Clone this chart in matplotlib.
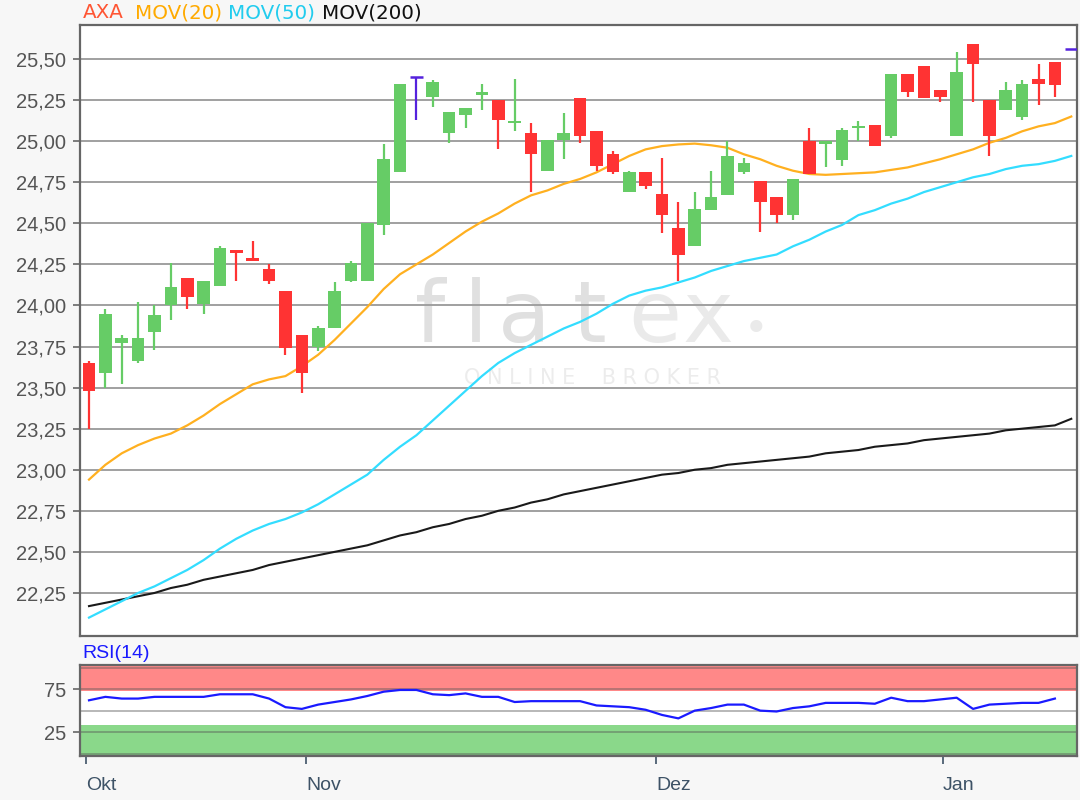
import numpy as np
import matplotlib
matplotlib.use("Agg")
import matplotlib.pyplot as plt

# AXA daily candles, Okt - Jan
opens = [23.65, 23.59, 23.77, 23.66, 23.84, 24.00, 24.17, 24.01, 24.12, 24.34,
         24.29, 24.22, 24.09, 23.82, 23.75, 23.86, 24.15, 24.15, 24.49, 24.81,
         25.39, 25.27, 25.05, 25.16, 25.28, 25.25, 25.11, 25.05, 24.82, 25.01,
         25.26, 25.06, 24.92, 24.69, 24.81, 24.68, 24.47, 24.36, 24.58, 24.67,
         24.81, 24.76, 24.66, 24.55, 25.00, 24.98, 24.885, 25.08, 25.10, 25.03,
         25.41, 25.46, 25.31, 25.03, 25.59, 25.25, 25.19, 25.15, 25.38, 25.48,
         25.56]
highs = [23.66, 23.98, 23.82, 24.02, 24.00, 24.26, 24.17, 24.15, 24.36, 24.34,
         24.39, 24.25, 24.09, 23.82, 23.875, 24.14, 24.27, 24.50, 24.98, 25.35,
         25.39, 25.37, 25.18, 25.20, 25.35, 25.25, 25.38, 25.11, 25.01, 25.17,
         25.26, 25.06, 24.94, 24.82, 24.81, 24.90, 24.63, 24.69, 24.82, 25.00,
         24.90, 24.76, 24.66, 24.77, 25.08, 25.00, 25.08, 25.12, 25.10, 25.41,
         25.41, 25.46, 25.31, 25.54, 25.59, 25.25, 25.36, 25.37, 25.47, 25.48,
         25.56]
lows = [23.25, 23.50, 23.52, 23.65, 23.73, 23.91, 23.98, 23.95, 24.12, 24.15,
        24.27, 24.13, 23.70, 23.47, 23.72, 23.86, 24.14, 24.15, 24.43, 24.81,
        25.13, 25.21, 24.99, 25.08, 25.19, 24.95, 25.06, 24.69, 24.82, 24.89,
        24.99, 24.82, 24.80, 24.69, 24.71, 24.44, 24.15, 24.36, 24.58, 24.67,
        24.80, 24.45, 24.50, 24.52, 24.80, 24.84, 24.85, 25.00, 24.97, 25.02,
        25.27, 25.26, 25.24, 25.03, 25.24, 24.91, 25.19, 25.13, 25.22, 25.27,
        25.56]
closes = [23.48, 23.95, 23.80, 23.80, 23.94, 24.11, 24.05, 24.15, 24.35, 24.32,
          24.27, 24.15, 23.74, 23.59, 23.86, 24.09, 24.26, 24.50, 24.89, 25.35,
          25.39, 25.36, 25.18, 25.20, 25.30, 25.13, 25.12, 24.92, 25.01, 25.05,
          25.03, 24.85, 24.815, 24.81, 24.73, 24.55, 24.31, 24.59, 24.66, 24.91,
          24.87, 24.63, 24.55, 24.77, 24.80, 25.00, 25.065, 25.09, 24.97, 25.41,
          25.30, 25.26, 25.27, 25.42, 25.47, 25.03, 25.31, 25.35, 25.35, 25.34,
          25.56]

mov20 = [22.94, 23.03, 23.10, 23.15, 23.19, 23.22, 23.27, 23.33, 23.40, 23.46,
         23.52, 23.55, 23.57, 23.63, 23.70, 23.79, 23.89, 23.99, 24.10, 24.19,
         24.25, 24.31, 24.38, 24.45, 24.51, 24.56, 24.62, 24.67, 24.70, 24.74,
         24.77, 24.81, 24.86, 24.91, 24.95, 24.97, 24.98, 24.985, 24.975, 24.96,
         24.92, 24.89, 24.85, 24.82, 24.80, 24.795, 24.80, 24.805, 24.81, 24.825,
         24.84, 24.865, 24.89, 24.92, 24.95, 24.99, 25.02, 25.06, 25.09, 25.11,
         25.15]
mov50 = [22.10, 22.15, 22.20, 22.25, 22.29, 22.34, 22.39, 22.45, 22.52, 22.58,
         22.63, 22.67, 22.70, 22.74, 22.79, 22.85, 22.91, 22.97, 23.06, 23.14,
         23.21, 23.30, 23.39, 23.48, 23.57, 23.65, 23.71, 23.76, 23.81, 23.86,
         23.90, 23.95, 24.01, 24.06, 24.09, 24.11, 24.14, 24.17, 24.21, 24.24,
         24.27, 24.29, 24.31, 24.36, 24.40, 24.45, 24.49, 24.55, 24.58, 24.62,
         24.65, 24.69, 24.72, 24.75, 24.78, 24.80, 24.83, 24.85, 24.86, 24.88,
         24.91]
mov200 = [22.17, 22.19, 22.21, 22.23, 22.25, 22.28, 22.30, 22.33, 22.35, 22.37,
          22.39, 22.42, 22.44, 22.46, 22.48, 22.50, 22.52, 22.54, 22.57, 22.60,
          22.62, 22.65, 22.67, 22.70, 22.72, 22.75, 22.77, 22.80, 22.82, 22.85,
          22.87, 22.89, 22.91, 22.93, 22.95, 22.97, 22.98, 23.00, 23.01, 23.03,
          23.04, 23.05, 23.06, 23.07, 23.08, 23.10, 23.11, 23.12, 23.14, 23.15,
          23.16, 23.18, 23.19, 23.20, 23.21, 23.22, 23.24, 23.25, 23.26, 23.27,
          23.31]

rsi = [62, 66, 64, 64, 66, 66, 66, 66, 69, 69,
       69, 64, 54, 52, 57, 60, 63, 67, 72, 74,
       74, 69, 68, 70, 66, 66, 60, 61, 61, 61,
       61, 56, 55, 54, 51, 45, 41, 50, 53, 57,
       57, 50, 49, 53, 55, 59, 59, 59, 58, 65,
       61, 61, 63, 65, 52, 57, 58, 59, 59, 64]

months = ["Okt", "Nov", "Dez", "Jan"]
month_pos = [-0.18, 13.26, 34.64, 52.17]
price_ticks = [22.25, 22.50, 22.75, 23.00, 23.25, 23.50, 23.75,
               24.00, 24.25, 24.50, 24.75, 25.00, 25.25, 25.50]

GREEN = "#66cc66"
RED = "#ff3333"
PURPLE = "#5522dd"
SPINE = "#666666"
TICK_GREY = "#555555"

plt.rcParams["font.family"] = ["Liberation Sans", "DejaVu Sans"]

fig = plt.figure(figsize=(10.8, 8), dpi=100, facecolor="#f7f7f7")
ax = fig.add_axes([80 / 1080, 1 - 636 / 800, 997 / 1080, 611 / 800])
rax = fig.add_axes([80 / 1080, 1 - 756 / 800, 997 / 1080, 91 / 800])

x = np.arange(len(closes))

# ---- price panel
ax.set_facecolor("white")
ax.set_xlim(-0.55, 60.35)
ax.set_ylim(21.988, 25.707)
ax.set_yticks(price_ticks)
ax.set_yticklabels([f"{v:.2f}".replace(".", ",") for v in price_ticks])
ax.yaxis.grid(True, color="#a0a0a0", lw=1.4)
ax.set_axisbelow(True)
ax.tick_params(axis="x", bottom=False, labelbottom=False)
ax.tick_params(axis="y", colors=SPINE, labelcolor=TICK_GREY, labelsize=14.5,
               length=5, width=1.2, pad=5)
for s in ax.spines.values():
    s.set_color(SPINE)
    s.set_linewidth(1.6)

# watermark
wm = [("f", 430, 62), ("l", 476, 62), ("a", 524, 62), ("t", 590, 62),
      ("e", 655, 62), ("x", 708, 62), ("•", 756, 30)]
for ch, px, fs in wm:
    col = "#e0e0e0" if ch in "flat" else "#eaeaea"
    ax.text((px - 80) / 997, (636 - 342) / 611, ch, transform=ax.transAxes,
            ha="center", va="baseline", fontsize=fs, color=col, zorder=0.1,
            family="DejaVu Sans")
ax.text((592 - 80) / 997, (636 - 378) / 611, "O N L I N E    B R O K E R",
        transform=ax.transAxes, ha="center", va="center", fontsize=15,
        color="#ececec", zorder=0.1, family="DejaVu Sans")

ax.plot(x, mov200, color="#1a1a1a", lw=1.5, zorder=2)
ax.plot(x, mov50, color="#33ddff", lw=1.6, zorder=2)
ax.plot(x, mov20, color="#ffb020", lw=1.6, zorder=2)

w = 0.77
for i in x:
    o, h, l, c = opens[i], highs[i], lows[i], closes[i]
    if c == o:
        ax.vlines(i, l, h, color=PURPLE, lw=1.6, zorder=3)
        ax.hlines(o, i - w / 2, i + w / 2, color=PURPLE, lw=1.8, zorder=3)
        continue
    col = GREEN if c > o else RED
    ax.vlines(i, l, h, color=col, lw=1.6, zorder=3)
    ax.bar(i, max(abs(c - o), 0.012), bottom=min(o, c), width=w, color=col,
           zorder=3)

# legend line above the chart
for label, col, px in [("AXA", "#ff5533", 83), ("MOV(20)", "#ffaa00", 135),
                       ("MOV(50)", "#22ccee", 228), ("MOV(200)", "#111111", 322)]:
    fig.text(px / 1080, 1 - 13 / 800, label, color=col, fontsize=14.3,
             family="DejaVu Sans", ha="left", va="center")

# ---- RSI panel
rax.set_facecolor("white")
rax.set_xlim(-0.55, 60.35)
rax.set_ylim(-2.7, 103)
rax.axhspan(73, 103, color="#ff8888", lw=0, zorder=0)
rax.axhspan(-2.7, 33, color="#8ad88a", lw=0, zorder=0)
for v in [0, 25, 50, 75, 100]:
    rax.axhline(v, color="#555555", alpha=0.45, lw=1.3, zorder=1)
rax.plot(x[:len(rsi)], rsi, color="#1a1aff", lw=1.6, zorder=3)
rax.set_yticks([25, 75])
rax.set_yticklabels(["25", "75"])
rax.set_xticks(month_pos)
rax.set_xticklabels(months, ha="left")
rax.tick_params(axis="y", colors=SPINE, labelcolor=TICK_GREY, labelsize=14.5,
                length=5, width=1.2, pad=5)
rax.tick_params(axis="x", colors="#3d5266", labelcolor="#3d5266", labelsize=14,
                length=6, width=1.2, pad=9)
for s in rax.spines.values():
    s.set_color(SPINE)
    s.set_linewidth(1.6)
fig.text(82 / 1080, 1 - 654 / 800, "RSI(14)", color="#1a1aff", fontsize=14,
         ha="left", va="center")

fig.savefig("out.png", dpi=100, facecolor=fig.get_facecolor())
